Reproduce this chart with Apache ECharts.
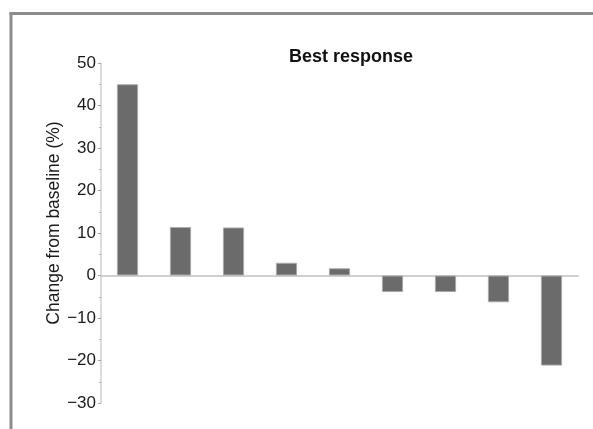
<!DOCTYPE html>
<html>
<head>
<meta charset="utf-8">
<script src="https://cdn.jsdelivr.net/npm/echarts@6/dist/echarts.min.js"></script>
<style>
html,body{margin:0;padding:0;background:#fff;}
#chart{width:593px;height:429px;}
</style>
</head>
<body>
<div id="chart"></div>
<script>
// Data
const categories = ['P1','P2','P3','P4','P5','P6','P7','P8','P9'];
const bestResponse = [45.0, 11.4, 11.3, 3.0, 1.7, -3.9, -3.9, -6.3, -21.2];
const yTicks = {min: -30, max: 50, interval: 10};
const chartTitle = 'Best response';
const yAxisName = 'Change from baseline (%)';

const chart = echarts.init(document.getElementById('chart'), null, {renderer: 'canvas'});
const font = 'Liberation Sans, Arial, Helvetica, sans-serif';
chart.setOption({
  animation: false,
  backgroundColor: '#ffffff',
  title: {
    text: chartTitle,
    left: 346, top: 43, textAlign: 'center',
    textStyle: {fontFamily: font, fontSize: 18, fontWeight: 'bold', color: '#111'}
  },
  graphic: [
    {type: 'line', shape: {x1: 9.5, y1: 13.5, x2: 593, y2: 13.5}, style: {stroke: '#8c8c8c', lineWidth: 3}},
    {type: 'line', shape: {x1: 11, y1: 12, x2: 11, y2: 429}, style: {stroke: '#8c8c8c', lineWidth: 3}}
  ],
  grid: {left: 101, right: 15, top: 63, bottom: 26, containLabel: false},
  xAxis: {
    type: 'category',
    data: categories,
    axisLine: {onZero: true, lineStyle: {color: '#cfcfcf', width: 2}},
    axisTick: {show: false},
    axisLabel: {show: false},
    splitLine: {show: false}
  },
  yAxis: {
    type: 'value',
    min: yTicks.min, max: yTicks.max, interval: yTicks.interval,
    name: yAxisName,
    nameLocation: 'middle',
    nameGap: 38,
    nameMoveOverlap: false,
    nameTextStyle: {fontFamily: font, fontSize: 17.5, color: '#1a1a1a', padding: [0, 0, 0, 20]},
    axisLine: {show: true, lineStyle: {color: '#cfcfcf', width: 1.5}},
    axisTick: {show: true, length: 3, lineStyle: {color: '#a8a8a8'}},
    minorTick: {show: true, splitNumber: 2, length: 2, lineStyle: {color: '#b8b8b8'}},
    splitLine: {show: false},
    axisLabel: {
      fontFamily: font, fontSize: 17, color: '#1a1a1a', margin: 5,
      formatter: v => String(v).replace('-', '\u2212')
    }
  },
  series: [{
    type: 'bar',
    data: bestResponse,
    barWidth: '40%',
    itemStyle: {color: '#6b6b6b', borderColor: '#a9a9a9', borderWidth: 1}
  }]
});
</script>
</body>
</html>
